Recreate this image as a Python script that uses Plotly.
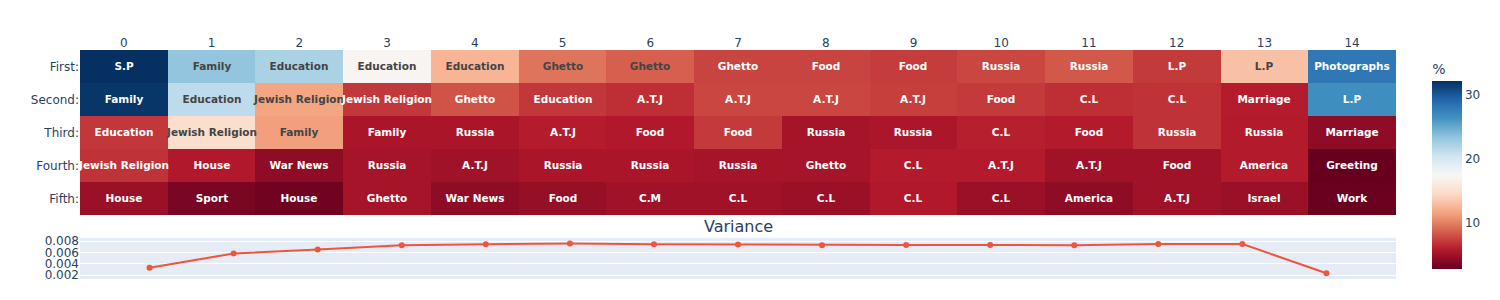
import plotly.graph_objects as go
from plotly.subplots import make_subplots

segments = list(range(15))
ranks = ["First:", "Second:", "Third:", "Fourth:", "Fifth:"]

labels_first = ["S.P", "Family", "Education", "Education", "Education", "Ghetto", "Ghetto", "Ghetto",
                "Food", "Food", "Russia", "Russia", "L.P", "L.P", "Photographs"]
labels_second = ["Family", "Education", "Jewish Religion", "Jewish Religion", "Ghetto", "Education", "A.T.J",
                 "A.T.J", "A.T.J", "A.T.J", "Food", "C.L", "C.L", "Marriage", "L.P"]
labels_third = ["Education", "Jewish Religion", "Family", "Family", "Russia", "A.T.J", "Food", "Food",
                "Russia", "Russia", "C.L", "Food", "Russia", "Russia", "Marriage"]
labels_fourth = ["Jewish Religion", "House", "War News", "Russia", "A.T.J", "Russia", "Russia", "Russia",
                 "Ghetto", "C.L", "A.T.J", "A.T.J", "Food", "America", "Greeting"]
labels_fifth = ["House", "Sport", "House", "Ghetto", "War News", "Food", "C.M", "C.L",
                "C.L", "C.L", "C.L", "America", "A.T.J", "Israel", "Work"]

pct_first = [32.1, 23.3, 22.2, 17.2, 12.5, 9.6, 8.7, 7.6, 7.6, 7.3, 7.7, 8.4, 7.2, 13.1, 28.0]
pct_second = [31.8, 21.3, 11.7, 7.1, 8.2, 7.1, 6.7, 7.7, 7.7, 7.4, 7.2, 6.7, 6.9, 6.0, 26.6]
pct_third = [7.1, 14.9, 11.4, 5.5, 5.5, 6.0, 5.8, 7.2, 5.3, 5.6, 6.1, 5.9, 6.9, 5.9, 4.4]
pct_fourth = [6.9, 5.8, 4.4, 5.3, 5.1, 5.5, 5.5, 5.3, 5.3, 5.9, 5.9, 5.1, 5.1, 5.9, 2.9]
pct_fifth = [4.9, 3.6, 3.3, 5.3, 4.4, 4.7, 5.1, 5.1, 4.9, 5.8, 4.9, 4.4, 5.1, 4.9, 3.0]

variance = [0.0033, 0.00583, 0.00652, 0.00728, 0.00745, 0.00757, 0.00745, 0.0074,
            0.00728, 0.00734, 0.00734, 0.00728, 0.0075, 0.0075, 0.00235]

z = [pct_first, pct_second, pct_third, pct_fourth, pct_fifth]
text = [labels_first, labels_second, labels_third, labels_fourth, labels_fifth]

fig = make_subplots(rows=2, cols=1, row_heights=[0.8, 0.2], vertical_spacing=0.1,
                    subplot_titles=("", "Variance"))

fig.add_trace(go.Heatmap(
    z=z, x=segments, y=ranks, text=text, texttemplate="%{text}",
    textfont=dict(size=10.5, weight="bold", family="DejaVu Sans"),
    colorscale="RdBu", colorbar=dict(title=dict(text="%")),
), row=1, col=1)

fig.add_trace(go.Scatter(x=segments, y=variance, mode="lines+markers", showlegend=False), row=2, col=1)

fig.update_xaxes(side="top", dtick=1, automargin=False, row=1, col=1)
fig.update_yaxes(autorange="reversed", automargin=False, row=1, col=1)
fig.update_xaxes(visible=False, automargin=False, row=2, col=1)
fig.update_yaxes(dtick=0.002, automargin=False, row=2, col=1)

fig.update_layout(
    width=1500, height=300,
    margin=dict(t=42, b=29, l=72, r=112),
    font=dict(family="DejaVu Sans"),
)

fig.write_html("out.html")
